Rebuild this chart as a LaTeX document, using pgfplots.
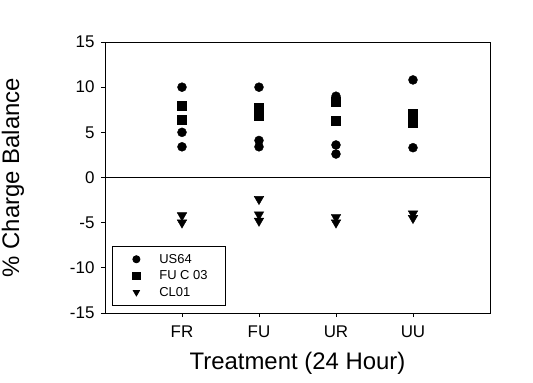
\documentclass[border=0pt]{standalone}
\usepackage{fontspec}
\setmainfont{Liberation Sans}
\usepackage{pgfplots}
\pgfplotsset{compat=1.18}
\begin{document}
\begin{tikzpicture}
\path[use as bounding box] (-105bp,-70bp) rectangle (428bp,313bp);
\begin{axis}[
  at={(0,0)}, anchor=south west,
  scale only axis, width=385bp, height=271bp,
  xmin=0, xmax=5, ymin=-15, ymax=15,
  xtick={1,2,3,4}, xticklabels={FR,FU,UR,UU},
  ytick={-15,-10,-5,0,5,10,15},
  xtick pos=bottom, ytick pos=left,
  tick align=outside, major tick length=4bp,
  tick style={black, line width=0.8pt},
  axis line style={line width=0.9pt},
  /pgf/number format/assume math mode=true,
  tick label style={font=\fontsize{17}{20}\selectfont},
  xticklabel style={yshift=-5bp},
  yticklabel style={xshift=-3bp},
  xlabel={Treatment (24 Hour)},
  ylabel={\% Charge Balance},
  label style={font=\fontsize{24}{28}\selectfont},
  xlabel style={at={(rel axis cs:0.5,0)}, anchor=center, yshift=-50bp},
  ylabel style={at={(rel axis cs:0,0.5)}, anchor=center, rotate=0, xshift=0bp},
  every axis y label/.append style={at={(rel axis cs:0,0.5)}, yshift=92bp},
  every axis plot post/.append style={
    legend image code/.code={\path[draw=none,fill=none] (0bp,-4bp) rectangle (36bp,4bp);
      \draw[mark repeat=2,mark phase=2,##1] plot coordinates {(0bp,0bp)(18bp,0bp)(36bp,0bp)};}},
  legend style={at={(rel axis cs:0,0)}, anchor=south west, xshift=7bp, yshift=7bp,
    draw=black, line width=0.8pt, font=\fontsize{13}{15}\selectfont,
    inner xsep=6bp, inner ysep=6bp, row sep=2bp,
    nodes={inner sep=2bp},
    /tikz/every odd column/.append style={column sep=3bp}},
  legend cell align=left,
  legend image post style={mark size=3.6bp},
]
\addplot[only marks, black, mark=*, mark size=4.5bp] coordinates {
 (1,10) (1,5) (1,3.4)
 (2,10) (2,4.1) (2,3.4)
 (3,9.0) (3,3.6) (3,2.6)
 (4,10.8) (4,6.5) (4,3.3)
};
\addlegendentry{US64}
\addplot[only marks, black, mark=square*, mark size=4.5bp] coordinates {
 (1,8.0) (1,6.4)
 (2,7.7) (2,6.8)
 (3,8.4) (3,6.3)
 (4,7.1) (4,6.1)
};
\addlegendentry{FU C 03\rule{10bp}{0pt}}
\addplot[only marks, black, mark=triangle*, mark options={rotate=180}, mark size=5.5bp] coordinates {
 (1,-4.2) (1,-5.0)
 (2,-2.4) (2,-4.1) (2,-4.8)
 (3,-4.4) (3,-5.0)
 (4,-4.0) (4,-4.5)
};
\addlegendentry{CL01}
\addplot[black, line width=0.9pt, forget plot] coordinates {(0,0) (5,0)};
\end{axis}
\end{tikzpicture}
\end{document}
